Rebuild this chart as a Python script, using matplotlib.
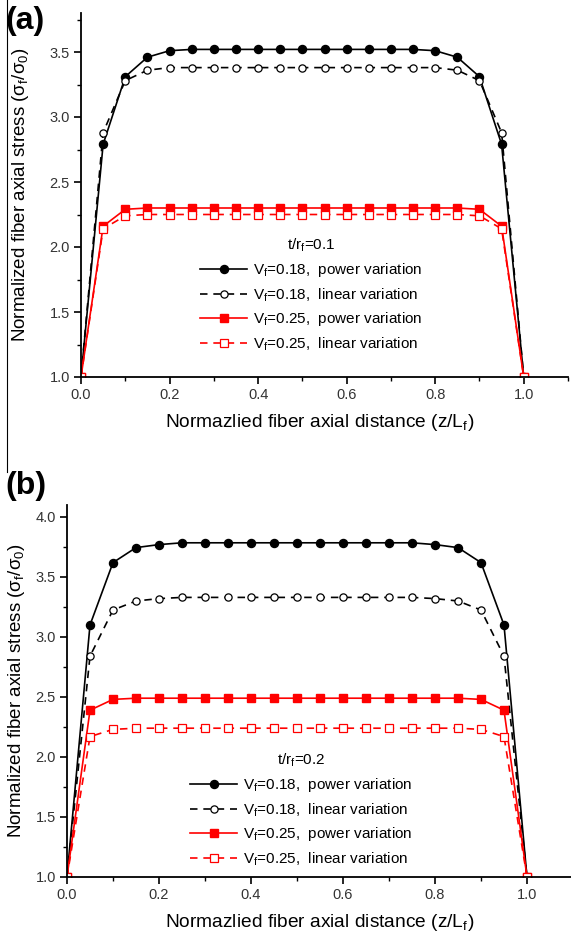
import matplotlib
matplotlib.use("Agg")
import matplotlib.pyplot as plt
from matplotlib.lines import Line2D
from matplotlib.ticker import MultipleLocator

plt.rcParams['font.family'] = ['Liberation Sans', 'DejaVu Sans']
plt.rcParams['mathtext.fontset'] = 'custom'
plt.rcParams['mathtext.rm'] = 'Liberation Sans'
plt.rcParams['mathtext.it'] = 'Liberation Sans'
plt.rcParams['mathtext.default'] = 'regular'

# Normalized axial position z/Lf
z = [0.00, 0.05, 0.10, 0.15, 0.20, 0.25, 0.30, 0.35, 0.40, 0.45, 0.50,
     0.55, 0.60, 0.65, 0.70, 0.75, 0.80, 0.85, 0.90, 0.95, 1.00]

# (a) t/rf = 0.1
a_pow18 = [1.00, 2.79, 3.31, 3.46, 3.51, 3.52, 3.52, 3.52, 3.52, 3.52, 3.52,
           3.52, 3.52, 3.52, 3.52, 3.52, 3.51, 3.46, 3.31, 2.79, 1.00]
a_lin18 = [1.00, 2.88, 3.28, 3.36, 3.38, 3.38, 3.38, 3.38, 3.38, 3.38, 3.38,
           3.38, 3.38, 3.38, 3.38, 3.38, 3.38, 3.36, 3.28, 2.88, 1.00]
a_pow25 = [1.00, 2.16, 2.29, 2.30, 2.30, 2.30, 2.30, 2.30, 2.30, 2.30, 2.30,
           2.30, 2.30, 2.30, 2.30, 2.30, 2.30, 2.30, 2.29, 2.16, 1.00]
a_lin25 = [1.00, 2.14, 2.24, 2.25, 2.25, 2.25, 2.25, 2.25, 2.25, 2.25, 2.25,
           2.25, 2.25, 2.25, 2.25, 2.25, 2.25, 2.25, 2.24, 2.14, 1.00]

# (b) t/rf = 0.2
b_pow18 = [1.00, 3.10, 3.62, 3.745, 3.77, 3.785, 3.785, 3.785, 3.785, 3.785, 3.785,
           3.785, 3.785, 3.785, 3.785, 3.785, 3.77, 3.745, 3.62, 3.10, 1.00]
b_lin18 = [1.00, 2.84, 3.225, 3.30, 3.32, 3.33, 3.33, 3.33, 3.33, 3.33, 3.33,
           3.33, 3.33, 3.33, 3.33, 3.33, 3.32, 3.30, 3.225, 2.84, 1.00]
b_pow25 = [1.00, 2.39, 2.48, 2.49, 2.49, 2.49, 2.49, 2.49, 2.49, 2.49, 2.49,
           2.49, 2.49, 2.49, 2.49, 2.49, 2.49, 2.49, 2.48, 2.39, 1.00]
b_lin25 = [1.00, 2.17, 2.23, 2.24, 2.24, 2.24, 2.24, 2.24, 2.24, 2.24, 2.24,
           2.24, 2.24, 2.24, 2.24, 2.24, 2.24, 2.24, 2.23, 2.17, 1.00]

labels = [r"V$_f$=0.18,  power variation",
          r"V$_f$=0.18,  linear variation",
          r"V$_f$=0.25,  power variation",
          r"V$_f$=0.25,  linear variation"]

W, H = 571, 935
fig = plt.figure(figsize=(W / 100, H / 100), dpi=100)

dash = (0, (4.5, 3.5))
tick_col = '#333333'


def panel(rect, ylim, series, title, leg_xy, xlab_xy, ylab_xy, lsp):
    ax = fig.add_axes(rect)
    p18, l18, p25, l25 = series
    ax.plot(z, p18, '-', color='black', lw=1.2, marker='o', ms=5.8,
            mfc='black', mec='black', label=labels[0])
    ax.plot(z, l18, color='black', ls=dash, lw=1.2, marker='o', ms=5.2,
            mfc='white', mec='black', mew=0.9, label=labels[1])
    ax.plot(z, p25, '-', color='red', lw=1.2, marker='s', ms=5.8,
            mfc='red', mec='red', label=labels[2])
    ax.plot(z, l25, color='red', ls=dash, lw=1.2, marker='s', ms=5.2,
            mfc='white', mec='red', mew=0.9, label=labels[3])

    ax.set_xlim(0, 1.1)
    ax.set_ylim(*ylim)
    ax.spines['top'].set_visible(False)
    ax.spines['right'].set_visible(False)
    for s in ('left', 'bottom'):
        ax.spines[s].set_linewidth(1.3)
    ax.xaxis.set_minor_locator(MultipleLocator(0.1))
    ax.yaxis.set_major_locator(MultipleLocator(0.5))
    ax.yaxis.set_minor_locator(MultipleLocator(0.25))
    ax.set_xticks([0.0, 0.2, 0.4, 0.6, 0.8, 1.0])
    ax.tick_params(which='major', direction='out', length=5, width=1.2,
                   labelsize=10.5, labelcolor=tick_col, pad=3)
    ax.tick_params(which='minor', direction='out', length=3, width=1.0)

    ax.set_xlabel(r"Normazlied fiber axial distance (z/L$_f$)", fontsize=13.8)
    ax.xaxis.set_label_coords(*xlab_xy)
    ax.set_ylabel(r"Normalized fiber axial stress (σ$_f$/σ$_0$)", fontsize=13.5)
    ax.yaxis.set_label_coords(*ylab_xy)

    ax.legend(loc='upper left', bbox_to_anchor=leg_xy,
              bbox_transform=fig.transFigure, frameon=False,
              fontsize=11, title=title, title_fontsize=11,
              handlelength=3.1, handletextpad=0.35, labelspacing=lsp,
              borderpad=0, borderaxespad=0)
    return ax


axa = panel([81 / W, 1 - 377 / H, 487 / W, 364 / H], (1.0, 3.8),
            (a_pow18, a_lin18, a_pow25, a_lin25), r"t/r$_f$=0.1",
            (200 / W, 1 - 237 / H), (0.49, -0.095), (-0.103, 0.5), 0.45)

axb = panel([67 / W, 1 - 877 / H, 506 / W, 372 / H], (1.0, 4.1),
            (b_pow18, b_lin18, b_pow25, b_lin25), r"t/r$_f$=0.2",
            (190 / W, 1 - 752 / H), (0.5, -0.093), (-0.079, 0.5), 0.45)

fig.text(5 / W, 1 - 21 / H, "(a)", fontsize=23, fontweight='bold', va='center', ha='left')
fig.text(5 / W, 1 - 486 / H, "(b)", fontsize=23, fontweight='bold', va='center', ha='left')

# thin border line at the left from the original scan
fig.add_artist(Line2D([7 / W, 7 / W], [1.0, 1 - 472 / H], color='black', lw=0.8,
                      transform=fig.transFigure))

fig.savefig("out.png", dpi=100)
